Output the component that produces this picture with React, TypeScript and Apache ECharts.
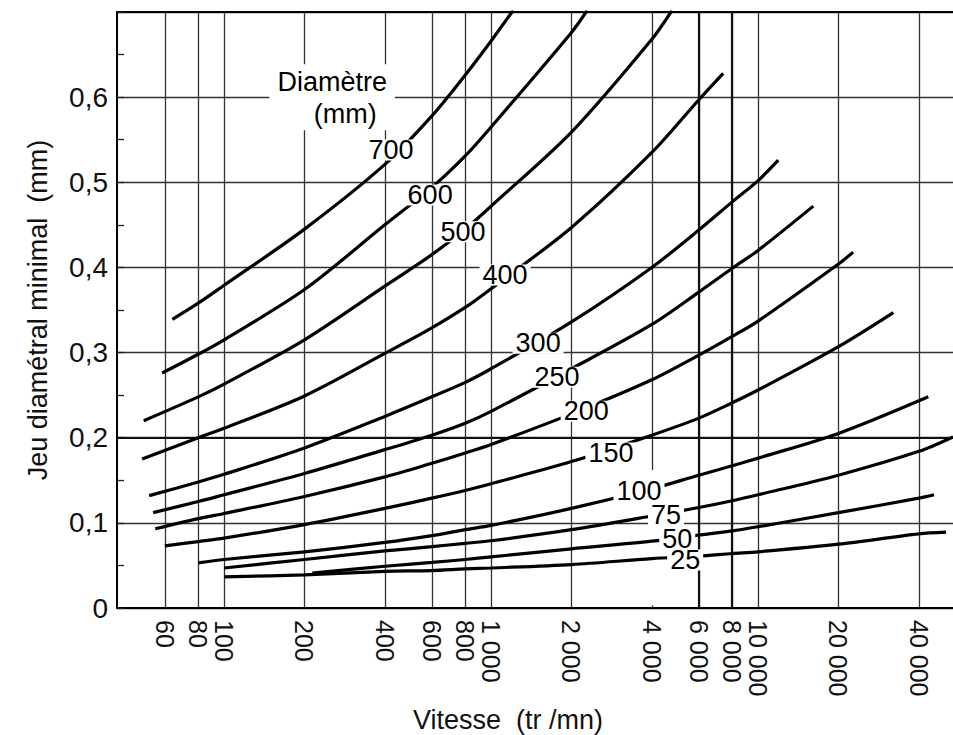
import React, { useEffect, useRef } from 'react';
import * as echarts from 'echarts';

// ---- data ----
const xTickValues = [60, 80, 100, 200, 400, 600, 800, 1000, 2000, 4000, 6000, 8000, 10000, 20000, 40000];
const yTickValues = [0, 0.1, 0.2, 0.3, 0.4, 0.5, 0.6];
const boldGridX = [6000, 8000];
const boldGridY = [0.2];
// stretch of a grid line that is blank in the original print
const gridGapX = [4000];
const gridGapY = [0.003, 0.162];

const diameters = ['700', '600', '500', '400', '300', '250', '200', '150', '100', '75', '50', '25'];

const c700 = [[64, 0.339], [80, 0.358], [100, 0.379], [200, 0.445], [400, 0.521], [600, 0.578], [800, 0.626], [1000, 0.666], [1210, 0.702]];
const c600 = [[58.6, 0.276], [80, 0.298], [100, 0.315], [200, 0.374], [400, 0.45], [600, 0.494], [800, 0.531], [1000, 0.565], [2000, 0.676], [2290, 0.702]];
const c500 = [[50, 0.22], [80, 0.248], [100, 0.263], [200, 0.315], [400, 0.378], [600, 0.415], [800, 0.445], [1000, 0.472], [2000, 0.559], [4000, 0.668], [4760, 0.702]];
const c400 = [[49.3, 0.175], [80, 0.2], [100, 0.211], [200, 0.249], [400, 0.299], [600, 0.329], [800, 0.353], [1000, 0.375], [2000, 0.447], [4000, 0.535], [6000, 0.597], [7400, 0.628]];
const c300 = [[52.4, 0.132], [80, 0.148], [100, 0.157], [200, 0.188], [400, 0.225], [600, 0.248], [800, 0.265], [1000, 0.281], [2000, 0.336], [4000, 0.4], [6000, 0.444], [8000, 0.477], [10000, 0.502], [11900, 0.526]];
const c250 = [[54.2, 0.112], [80, 0.125], [100, 0.133], [200, 0.158], [400, 0.186], [600, 0.203], [800, 0.217], [1000, 0.231], [2000, 0.281], [4000, 0.333], [6000, 0.371], [8000, 0.399], [10000, 0.42], [16100, 0.472]];
const c200 = [[55.2, 0.093], [80, 0.105], [100, 0.111], [200, 0.131], [400, 0.154], [600, 0.17], [800, 0.182], [1000, 0.192], [2000, 0.228], [4000, 0.268], [6000, 0.297], [8000, 0.319], [10000, 0.337], [20000, 0.404], [22700, 0.418]];
const c150 = [[60, 0.073], [80, 0.078], [100, 0.082], [200, 0.098], [400, 0.117], [600, 0.129], [800, 0.138], [1000, 0.146], [2000, 0.172], [4000, 0.203], [6000, 0.223], [8000, 0.241], [10000, 0.256], [20000, 0.307], [32100, 0.347]];
const c100 = [[80, 0.053], [100, 0.057], [200, 0.066], [400, 0.077], [600, 0.085], [800, 0.092], [1000, 0.097], [2000, 0.117], [4000, 0.14], [6000, 0.156], [8000, 0.167], [10000, 0.176], [20000, 0.205], [43400, 0.248]];
const c75 = [[100, 0.047], [200, 0.057], [400, 0.067], [600, 0.072], [800, 0.076], [1000, 0.079], [2000, 0.092], [4000, 0.108], [6000, 0.118], [8000, 0.126], [10000, 0.133], [20000, 0.156], [40000, 0.184], [53700, 0.201]];
const c50 = [[214, 0.041], [400, 0.049], [600, 0.0535], [800, 0.057], [1000, 0.06], [2000, 0.0695], [4000, 0.0785], [6000, 0.0855], [8000, 0.0905], [10000, 0.0955], [20000, 0.112], [40000, 0.129], [45600, 0.133]];
const c25 = [[100, 0.0365], [200, 0.039], [400, 0.043], [600, 0.044], [800, 0.046], [1000, 0.047], [2000, 0.051], [4000, 0.058], [6000, 0.061], [8000, 0.064], [10000, 0.066], [20000, 0.075], [40000, 0.087], [50600, 0.089]];

const curves = [c700, c600, c500, c400, c300, c250, c200, c150, c100, c75, c50, c25];

// where each diameter label sits (data coordinates)
const curveLabelAt = [[422, 0.538], [591, 0.485], [785, 0.442], [1128, 0.391], [1500, 0.311], [1766, 0.271], [2270, 0.231], [2810, 0.182], [3580, 0.137], [4520, 0.109], [4980, 0.0816], [5330, 0.0564]];

const legendTitle = ['Diamètre', '(mm)'];
const legendTitleAt = [254, 0.6];

const xTitle = 'Vitesse  (tr /mn)';
const yTitle = 'Jeu diamétral minimal  (mm)';

const FONT = '"Liberation Sans", Arial, Helvetica, sans-serif';
const X_MIN = 39.7;
const X_MAX = 53700;

function fmtThousands(v: number): string {
  return String(Math.round(v)).replace(/\B(?=(\d{3})+(?!\d))/g, ' ');
}

export default function App() {
  const ref = useRef<HTMLDivElement>(null);

  useEffect(() => {
    if (!ref.current) return;
    const chart = echarts.init(ref.current, undefined, { renderer: 'svg' });

    const curveSeries = curves.map((d, i) => ({
      type: 'line',
      name: diameters[i],
      data: d,
      showSymbol: false,
      symbol: 'none',
      smooth: 0.3,
      silent: true,
      z: 3,
      lineStyle: { color: '#000', width: 3.2 },
    }));

    const labelStyle = {
      show: true,
      position: 'inside',
      fontFamily: FONT,
      color: '#000',
      opacity: 1,
      textBorderWidth: 0,
      textBorderColor: 'transparent',
      backgroundColor: '#fff',
    };

    const option: any = {
      animation: false,
      backgroundColor: '#fff',
      grid: { left: 117, top: 12, right: 0, bottom: 127, outerBoundsMode: 'none' },
      xAxis: [
        {
          type: 'log',
          logBase: 10,
          min: X_MIN,
          max: X_MAX,
          position: 'bottom',
          axisLine: { show: true, onZero: false, lineStyle: { color: '#000', width: 2 } },
          axisTick: { show: false, customValues: xTickValues },
          axisLabel: {
            customValues: xTickValues,
            rotate: -90,
            margin: 12,
            fontSize: 25,
            fontFamily: FONT,
            color: '#111',
            formatter: (v: number) => fmtThousands(v),
          },
          splitLine: { show: true, lineStyle: { color: '#333', width: 1.3 } },
          minorTick: { show: false },
          minorSplitLine: { show: false },
        },
        {
          type: 'log',
          logBase: 10,
          min: X_MIN,
          max: X_MAX,
          position: 'top',
          axisLine: { show: true, onZero: false, lineStyle: { color: '#000', width: 2.2 } },
          axisTick: { show: false },
          axisLabel: { show: false },
          splitLine: { show: false },
        },
      ],
      yAxis: {
        type: 'value',
        min: 0,
        max: 0.7,
        interval: 0.1,
        name: yTitle,
        nameLocation: 'middle',
        nameRotate: 90,
        nameGap: 66,
        nameTextStyle: { fontSize: 27, fontFamily: FONT, color: '#111' },
        axisLine: { show: true, onZero: false, lineStyle: { color: '#000', width: 2 } },
        axisTick: { show: true, inside: true, length: 7, lineStyle: { color: '#222', width: 1.3 } },
        minorTick: { show: true, splitNumber: 2, length: 7, lineStyle: { color: '#222', width: 1.3 } },
        axisLabel: {
          margin: 9,
          fontSize: 28,
          fontFamily: FONT,
          color: '#111',
          formatter: (v: number) => {
            const hit = yTickValues.find((t) => Math.abs(t - v) < 1e-6);
            if (hit === undefined) return '';
            return hit === 0 ? '0' : hit.toFixed(1).replace('.', ',');
          },
        },
        splitLine: { show: true, lineStyle: { color: '#333', width: 1.3 } },
      },
      graphic: [
        {
          type: 'text',
          x: 508,
          y: 720,
          silent: true,
          style: {
            text: xTitle,
            fontSize: 27,
            fontFamily: FONT,
            fill: '#111',
            align: 'center',
            verticalAlign: 'middle',
          },
        },
      ],
      series: [
        {
          type: 'line',
          data: [],
          silent: true,
          z: 1,
          markLine: {
            silent: true,
            z: 1,
            symbol: ['none', 'none'],
            label: { show: false },
            lineStyle: { color: '#111', width: 2.2, type: 'solid' },
            data: [
              ...boldGridX.map((v) => ({ xAxis: v })),
              ...boldGridY.map((v) => ({ yAxis: v })),
              ...gridGapX.map((v) => [
                { coord: [v, gridGapY[0]], lineStyle: { color: '#fff', width: 3 } },
                { coord: [v, gridGapY[1]] },
              ]),
            ],
          },
        },
        ...curveSeries,
        {
          type: 'scatter',
          z: 10,
          silent: true,
          symbolSize: 1,
          itemStyle: { color: 'rgba(0,0,0,0)', opacity: 1 },
          data: curveLabelAt.map((p, i) => ({ value: p, name: diameters[i] })),
          label: {
            ...labelStyle,
            formatter: '{b}',
            fontSize: 27,
            lineHeight: 21,
            padding: [0, 3],
          },
        },
        {
          type: 'scatter',
          z: 10,
          silent: true,
          symbolSize: 1,
          itemStyle: { color: 'rgba(0,0,0,0)', opacity: 1 },
          data: [{ value: legendTitleAt, name: 'title' }],
          label: {
            ...labelStyle,
            formatter: `{a|${legendTitle[0]}}\n{b|${legendTitle[1]}}`,
            padding: [2, 8, 0, 8],
            rich: {
              a: { fontSize: 27, fontFamily: FONT, color: '#000', lineHeight: 32, textBorderWidth: 0 },
              b: { fontSize: 27, fontFamily: FONT, color: '#000', lineHeight: 32, padding: [0, 0, 0, 26], textBorderWidth: 0 },
            },
          },
        },
      ],
    };

    chart.setOption(option);
    return () => chart.dispose();
  }, []);

  return (
    <div
      ref={ref}
      style={{ position: 'absolute', left: 0, top: 0, width: 953, height: 735, background: '#fff' }}
    />
  );
}
